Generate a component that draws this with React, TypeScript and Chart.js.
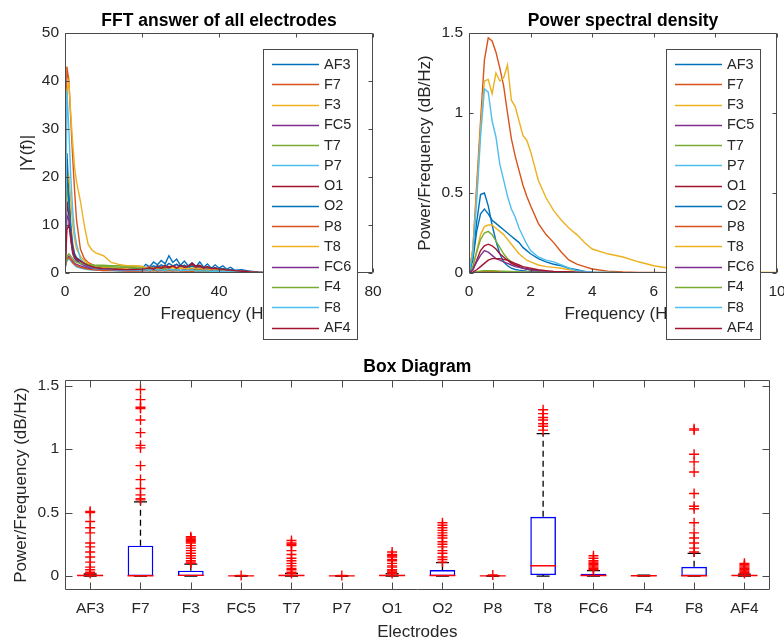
import React, { useEffect, useRef } from 'react';
import { Chart, registerables } from 'chart.js';

Chart.register(...registerables);

const FONT = '"Liberation Sans", Arial, Helvetica, sans-serif';

const electrodes = ['AF3', 'F7', 'F3', 'FC5', 'T7', 'P7', 'O1', 'O2', 'P8', 'T8', 'FC6', 'F4', 'F8', 'AF4'];
const seriesColors = ['#0072BD', '#D95319', '#EDB120', '#7E2F8E', '#77AC30', '#4DBEEE', '#A2142F', '#0072BD', '#D95319', '#EDB120', '#7E2F8E', '#77AC30', '#4DBEEE', '#A2142F'];

// ---------- FFT (|Y(f)|) ----------
const fftFreq = [0, 0.5, 1, 1.5, 2, 2.5, 3, 4, 5, 6, 7, 8, 10, 12, 14, 16, 18, 20, 21, 22, 23, 24, 25, 26, 27, 28, 29, 30, 31, 32, 33, 34, 35, 36, 37, 38, 39, 40, 41, 42, 43, 44, 46, 48, 50, 52, 55, 60, 64];
const fftAF3 = [0.5, 25, 17, 10, 6, 4, 3.2, 2.6, 2, 1.6, 1.3, 1.1, 0.9, 0.8, 0.7, 0.7, 0.8, 1.0, 1.8, 1.3, 2.3, 1.7, 2.6, 1.9, 3.6, 2.2, 2.9, 1.6, 2.5, 1.5, 2.1, 1.3, 2.3, 1.2, 1.9, 1.0, 1.7, 1.0, 1.5, 0.8, 1.2, 0.6, 0.7, 0.35, 0.2, 0.1, 0.05, 0, 0];
const fftF7 = [0, 43, 40, 32, 24, 17, 11, 5, 3, 2.2, 1.8, 1.5, 1.2, 1.0, 0.9, 0.8, 0.8, 0.9, 1.1, 1.3, 1.0, 1.4, 1.2, 1.6, 1.3, 1.5, 1.1, 1.4, 1.2, 1.0, 1.6, 0.9, 1.1, 0.8, 0.9, 0.7, 0.8, 0.6, 0.6, 0.5, 0.5, 0.4, 0.3, 0.2, 0.1, 0.05, 0, 0, 0];
const fftF3 = [0, 18, 20, 15, 10, 7, 5, 3.5, 2.5, 2, 1.6, 1.3, 1.1, 1.0, 0.9, 0.8, 0.8, 0.7, 0.8, 0.6, 0.9, 0.7, 0.8, 0.6, 0.9, 0.7, 0.8, 0.5, 0.7, 0.6, 0.8, 0.5, 0.6, 0.5, 0.6, 0.4, 0.5, 0.4, 0.4, 0.3, 0.3, 0.3, 0.2, 0.15, 0.1, 0.05, 0, 0, 0];
const fftFC5 = [1, 3, 3.5, 3, 2.5, 2, 1.8, 1.5, 1.2, 1, 0.9, 0.8, 0.7, 0.6, 0.5, 0.5, 0.5, 0.5, 0.6, 0.5, 0.6, 0.5, 0.6, 0.5, 0.6, 0.5, 0.6, 0.5, 0.5, 0.4, 0.5, 0.4, 0.5, 0.4, 0.4, 0.3, 0.4, 0.3, 0.3, 0.3, 0.2, 0.2, 0.15, 0.1, 0.05, 0, 0, 0, 0];
const fftT7 = [0, 19, 14, 8, 5, 3.5, 3, 2.5, 2, 1.8, 1.7, 1.6, 1.6, 1.5, 1.5, 1.4, 1.4, 1.3, 0.9, 1.0, 0.8, 1.1, 0.9, 1.0, 0.8, 1.2, 0.9, 1.0, 0.8, 0.9, 1.0, 0.7, 0.8, 0.6, 0.8, 0.6, 0.7, 0.5, 0.6, 0.4, 0.5, 0.4, 0.3, 0.2, 0.1, 0.05, 0, 0, 0];
const fftP7 = [1, 2.5, 3, 2.5, 2, 1.6, 1.3, 1, 0.8, 0.7, 0.6, 0.6, 0.5, 0.5, 0.4, 0.4, 0.4, 0.4, 0.5, 0.4, 0.5, 0.4, 0.5, 0.4, 0.5, 0.4, 0.5, 0.4, 0.4, 0.3, 0.4, 0.3, 0.4, 0.3, 0.3, 0.3, 0.3, 0.2, 0.2, 0.2, 0.2, 0.1, 0.1, 0.05, 0, 0, 0, 0, 0];
const fftO1 = [0, 15, 12, 7, 4.5, 3.5, 3, 2.5, 2, 1.5, 1.2, 1, 0.9, 0.8, 0.8, 0.7, 0.8, 0.9, 1.0, 1.3, 0.9, 1.5, 1.1, 1.6, 1.2, 1.4, 1.8, 1.3, 1.6, 1.2, 2.1, 1.4, 1.6, 1.1, 1.3, 0.9, 1.1, 0.8, 0.9, 0.7, 0.7, 0.5, 0.4, 0.3, 0.15, 0.05, 0, 0, 0];
const fftO2 = [0, 22, 15, 9, 5, 3.5, 2.8, 2, 1.6, 1.3, 1.1, 1, 0.9, 0.8, 0.7, 0.7, 0.8, 0.9, 1.2, 1.0, 1.5, 1.2, 1.7, 1.3, 2.0, 1.5, 1.8, 1.2, 1.6, 1.1, 1.5, 1.0, 1.4, 0.9, 1.2, 0.8, 1.1, 0.7, 0.9, 0.6, 0.7, 0.5, 0.4, 0.25, 0.1, 0.05, 0, 0, 0];
const fftP8 = [1, 3, 3.2, 2.8, 2.2, 1.8, 1.5, 1.2, 1, 0.8, 0.7, 0.6, 0.5, 0.5, 0.5, 0.4, 0.4, 0.4, 0.5, 0.4, 0.5, 0.4, 0.5, 0.4, 0.5, 0.4, 0.5, 0.4, 0.4, 0.3, 0.4, 0.3, 0.4, 0.3, 0.3, 0.3, 0.3, 0.2, 0.2, 0.2, 0.2, 0.1, 0.1, 0.05, 0, 0, 0, 0, 0];
const fftT8 = [0, 38, 40, 33, 27, 22, 19, 15, 10, 6, 4.8, 4.2, 3.6, 2.2, 1.8, 1.5, 1.5, 1.4, 1.0, 1.2, 0.9, 1.1, 1.0, 1.3, 0.9, 1.2, 1.0, 1.1, 0.8, 1.0, 0.9, 1.1, 0.8, 0.9, 0.7, 0.8, 0.6, 0.7, 0.5, 0.6, 0.4, 0.4, 0.3, 0.2, 0.1, 0.05, 0, 0, 0];
const fftFC6 = [0, 12, 11, 7, 4, 3, 2.5, 2, 1.6, 1.3, 1.1, 1, 0.8, 0.7, 0.6, 0.6, 0.6, 0.6, 0.7, 0.6, 0.8, 0.6, 0.7, 0.6, 0.8, 0.6, 0.7, 0.5, 0.7, 0.5, 0.8, 0.5, 0.6, 0.5, 0.6, 0.4, 0.5, 0.4, 0.4, 0.3, 0.3, 0.3, 0.2, 0.15, 0.1, 0.05, 0, 0, 0];
const fftF4 = [1, 3.5, 4, 3.5, 3, 2.5, 2.2, 2, 1.8, 1.7, 1.6, 1.5, 1.4, 1.3, 1.2, 1.2, 1.1, 1.0, 0.7, 0.6, 0.7, 0.6, 0.7, 0.6, 0.7, 0.6, 0.7, 0.5, 0.6, 0.5, 0.6, 0.5, 0.5, 0.4, 0.5, 0.4, 0.4, 0.3, 0.3, 0.3, 0.2, 0.2, 0.15, 0.1, 0.05, 0, 0, 0, 0];
const fftF8 = [0, 38, 30, 20, 13, 8.5, 6, 3, 2, 1.5, 1.2, 1.0, 0.8, 0.7, 0.6, 0.6, 0.6, 0.6, 0.7, 0.5, 0.8, 0.6, 0.7, 0.5, 0.8, 0.6, 0.7, 0.5, 0.6, 0.5, 0.7, 0.4, 0.5, 0.4, 0.5, 0.3, 0.4, 0.3, 0.3, 0.3, 0.2, 0.2, 0.15, 0.1, 0.05, 0, 0, 0, 0];
const fftAF4 = [0, 9, 10, 8, 5, 3.5, 3, 2.5, 2, 1.6, 1.3, 1.1, 0.9, 0.8, 0.7, 0.7, 0.7, 0.8, 0.9, 1.1, 0.8, 1.2, 1.0, 1.3, 1.1, 1.5, 1.0, 1.6, 1.2, 1.4, 1.9, 1.2, 1.5, 1.0, 1.3, 0.9, 1.0, 0.8, 0.8, 0.6, 0.6, 0.5, 0.35, 0.2, 0.1, 0.05, 0, 0, 0];
const fftSeries = [fftAF3, fftF7, fftF3, fftFC5, fftT7, fftP7, fftO1, fftO2, fftP8, fftT8, fftFC6, fftF4, fftF8, fftAF4];

// ---------- Power spectral density ----------
const psdFreq = [0, 0.125, 0.25, 0.375, 0.5, 0.625, 0.75, 0.875, 1, 1.125, 1.25, 1.375, 1.5, 1.625, 1.75, 1.875, 2, 2.25, 2.5, 2.75, 3, 3.25, 3.5, 3.75, 4, 4.5, 5, 5.5, 6, 6.5, 7, 7.5, 8, 8.5, 9, 10];
const psdAF3 = [0, 0.10, 0.32, 0.49, 0.50, 0.42, 0.30, 0.20, 0.12, 0.07, 0.045, 0.03, 0.022, 0.018, 0.015, 0.012, 0.01, 0.008, 0.006, 0.005, 0.004, 0.003, 0.003, 0.002, 0.002, 0.001, 0.001, 0.001, 0, 0, 0, 0, 0, 0, 0, 0];
const psdF7 = [0, 0.15, 0.55, 0.95, 1.33, 1.47, 1.45, 1.38, 1.28, 1.17, 1.0, 0.84, 0.73, 0.64, 0.55, 0.48, 0.42, 0.31, 0.24, 0.19, 0.13, 0.08, 0.055, 0.04, 0.025, 0.012, 0.006, 0.004, 0.003, 0.002, 0.002, 0.001, 0.001, 0, 0, 0];
const psdF3 = [0, 0.04, 0.14, 0.24, 0.29, 0.30, 0.30, 0.28, 0.26, 0.24, 0.21, 0.18, 0.15, 0.12, 0.10, 0.08, 0.07, 0.05, 0.04, 0.035, 0.03, 0.02, 0.015, 0.01, 0.005, 0.003, 0.002, 0.001, 0, 0, 0, 0, 0, 0, 0, 0];
const psdFC5 = [0, 0.002, 0.005, 0.007, 0.008, 0.008, 0.008, 0.007, 0.007, 0.006, 0.006, 0.005, 0.005, 0.004, 0.004, 0.003, 0.003, 0.002, 0.002, 0.002, 0.001, 0.001, 0.001, 0.001, 0.001, 0, 0, 0, 0, 0, 0, 0, 0, 0, 0, 0];
const psdT7 = [0, 0.04, 0.13, 0.21, 0.25, 0.26, 0.24, 0.20, 0.16, 0.12, 0.09, 0.07, 0.05, 0.04, 0.03, 0.025, 0.02, 0.015, 0.01, 0.008, 0.006, 0.005, 0.004, 0.003, 0.002, 0.001, 0.001, 0, 0, 0, 0, 0, 0, 0, 0, 0];
const psdP7 = [0, 0.001, 0.003, 0.004, 0.005, 0.005, 0.005, 0.004, 0.004, 0.004, 0.003, 0.003, 0.003, 0.002, 0.002, 0.002, 0.002, 0.001, 0.001, 0.001, 0.001, 0.001, 0, 0, 0, 0, 0, 0, 0, 0, 0, 0, 0, 0, 0, 0];
const psdO1 = [0, 0.02, 0.08, 0.14, 0.17, 0.18, 0.17, 0.15, 0.12, 0.10, 0.08, 0.06, 0.05, 0.04, 0.03, 0.025, 0.02, 0.015, 0.01, 0.008, 0.006, 0.005, 0.004, 0.003, 0.002, 0.001, 0.001, 0, 0, 0, 0, 0, 0, 0, 0, 0];
const psdO2 = [0, 0.08, 0.26, 0.37, 0.40, 0.37, 0.33, 0.31, 0.29, 0.27, 0.25, 0.23, 0.21, 0.19, 0.16, 0.14, 0.12, 0.09, 0.07, 0.055, 0.045, 0.03, 0.02, 0.01, 0.005, 0.003, 0.002, 0.001, 0, 0, 0, 0, 0, 0, 0, 0];
const psdP8 = [0, 0.002, 0.006, 0.009, 0.010, 0.010, 0.009, 0.009, 0.008, 0.007, 0.007, 0.006, 0.005, 0.005, 0.004, 0.004, 0.003, 0.003, 0.002, 0.002, 0.002, 0.001, 0.001, 0.001, 0.001, 0.001, 0, 0, 0, 0, 0, 0, 0, 0, 0, 0];
const psdT8 = [0, 0.15, 0.5, 0.9, 1.2, 1.21, 1.12, 1.25, 1.2, 1.22, 1.3, 1.08, 1.04, 0.95, 0.86, 0.83, 0.76, 0.58, 0.47, 0.39, 0.33, 0.28, 0.24, 0.19, 0.15, 0.12, 0.10, 0.07, 0.045, 0.03, 0.02, 0.015, 0.01, 0.008, 0.005, 0.003];
const psdFC6 = [0, 0.02, 0.07, 0.11, 0.14, 0.13, 0.11, 0.09, 0.08, 0.07, 0.06, 0.05, 0.04, 0.035, 0.03, 0.025, 0.02, 0.015, 0.01, 0.008, 0.006, 0.005, 0.004, 0.003, 0.002, 0.001, 0.001, 0, 0, 0, 0, 0, 0, 0, 0, 0];
const psdF4 = [0, 0.003, 0.008, 0.012, 0.014, 0.015, 0.014, 0.013, 0.012, 0.011, 0.010, 0.009, 0.008, 0.007, 0.006, 0.005, 0.005, 0.004, 0.003, 0.003, 0.002, 0.002, 0.002, 0.001, 0.001, 0.001, 0, 0, 0, 0, 0, 0, 0, 0, 0, 0];
const psdF8 = [0, 0.12, 0.45, 0.85, 1.15, 1.13, 0.95, 0.85, 0.68, 0.58, 0.48, 0.40, 0.35, 0.28, 0.23, 0.18, 0.14, 0.10, 0.08, 0.07, 0.05, 0.03, 0.015, 0.01, 0.005, 0.003, 0.002, 0.001, 0, 0, 0, 0, 0, 0, 0, 0];
const psdAF4 = [0, 0.005, 0.02, 0.04, 0.06, 0.08, 0.09, 0.09, 0.09, 0.085, 0.08, 0.07, 0.06, 0.05, 0.04, 0.035, 0.03, 0.02, 0.015, 0.01, 0.008, 0.006, 0.004, 0.003, 0.002, 0.001, 0.001, 0, 0, 0, 0, 0, 0, 0, 0, 0];
const psdSeries = [psdAF3, psdF7, psdF3, psdFC5, psdT7, psdP7, psdO1, psdO2, psdP8, psdT8, psdFC6, psdF4, psdF8, psdAF4];

// ---------- Box diagram ----------
const boxQ1 = [0, 0, 0, 0, 0, 0, 0, 0, 0, 0.008, 0, 0, 0, 0];
const boxMedian = [0.004, 0.002, 0.005, 0.001, 0.004, 0.001, 0.004, 0.004, 0.001, 0.081, 0.004, 0.002, 0.002, 0.004];
const boxQ3 = [0.01, 0.239, 0.042, 0.002, 0.01, 0.002, 0.01, 0.047, 0.002, 0.467, 0.018, 0.006, 0.073, 0.008];
const whiskerLow = [0, 0, 0, 0, 0, 0, 0, 0, 0, 0, 0, 0, 0, 0];
const whiskerHigh = [0.016, 0.585, 0.094, 0.004, 0.02, 0.004, 0.018, 0.105, 0.004, 1.123, 0.042, 0.008, 0.178, 0.015];
const boxOutliers = [
  [0.51, 0.50, 0.43, 0.38, 0.34, 0.26, 0.23, 0.19, 0.15, 0.11, 0.07, 0.05, 0.03, 0.02],
  [1.47, 1.39, 1.33, 1.32, 1.23, 1.13, 1.03, 1.01, 0.87, 0.76, 0.69, 0.64, 0.61, 0.60],
  [0.31, 0.30, 0.29, 0.28, 0.27, 0.26, 0.24, 0.22, 0.20, 0.18, 0.16, 0.14, 0.12, 0.11, 0.10],
  [0.005],
  [0.28, 0.26, 0.25, 0.24, 0.20, 0.17, 0.14, 0.12, 0.10, 0.08, 0.06, 0.05, 0.03, 0.02],
  [0.004],
  [0.19, 0.17, 0.16, 0.15, 0.13, 0.12, 0.10, 0.08, 0.07, 0.05, 0.04, 0.03, 0.02],
  [0.42, 0.40, 0.38, 0.36, 0.34, 0.32, 0.30, 0.27, 0.25, 0.23, 0.20, 0.18, 0.15, 0.13, 0.11],
  [0.008],
  [1.31, 1.28, 1.25, 1.23, 1.20, 1.18, 1.15],
  [0.16, 0.14, 0.12, 0.11, 0.10, 0.09, 0.08, 0.07, 0.06, 0.05],
  [],
  [1.16, 1.15, 0.96, 0.90, 0.82, 0.65, 0.55, 0.53, 0.42, 0.34, 0.30, 0.26, 0.22, 0.19],
  [0.10, 0.09, 0.08, 0.07, 0.06, 0.05, 0.04, 0.03, 0.02],
];
const boxYTicks = [0, 0.5, 1, 1.5];

// ---------- plugin: MATLAB-like frame, inward ticks, title, legend ----------
const matlabPlugin = {
  id: 'matlab',
  afterDraw(chart: any, _args: any, opts: any) {
    const ctx = chart.ctx as CanvasRenderingContext2D;
    const { left, right, top, bottom } = chart.chartArea;
    const L = Math.round(left) + 0.5;
    const R = Math.round(right) - 0.5;
    const T = Math.round(top) + 0.5;
    const B = Math.round(bottom) - 0.5;
    ctx.save();
    ctx.setLineDash([]);
    ctx.strokeStyle = '#4a4a4a';
    ctx.lineWidth = 1;
    ctx.beginPath();
    ctx.rect(L, T, R - L, B - T);
    ctx.stroke();
    const xs = chart.scales.x;
    const ys = chart.scales.y;
    const len = opts.tickLen;
    ctx.beginPath();
    xs.ticks.forEach((_t: any, i: number) => {
      const p = Math.round(xs.getPixelForTick(i)) + 0.5;
      ctx.moveTo(p, B); ctx.lineTo(p, B - len);
      ctx.moveTo(p, T); ctx.lineTo(p, T + len);
    });
    ys.ticks.forEach((_t: any, i: number) => {
      const p = Math.round(ys.getPixelForTick(i)) + 0.5;
      ctx.moveTo(L, p); ctx.lineTo(L + len, p);
      ctx.moveTo(R, p); ctx.lineTo(R - len, p);
    });
    ctx.stroke();

    ctx.fillStyle = '#000';
    ctx.font = `bold 17.5px ${FONT}`;
    ctx.textAlign = 'center';
    ctx.textBaseline = 'middle';
    ctx.fillText(opts.title, (left + right) / 2, opts.titleY);

    if (opts.legend) {
      const lg = opts.legend;
      ctx.fillStyle = '#fff';
      ctx.fillRect(lg.x, lg.y, lg.w, lg.h);
      ctx.strokeStyle = '#4a4a4a';
      ctx.lineWidth = 1;
      ctx.strokeRect(lg.x + 0.5, lg.y + 0.5, lg.w, lg.h);
      ctx.font = `14.5px ${FONT}`;
      ctx.textAlign = 'left';
      chart.data.datasets.forEach((ds: any, i: number) => {
        const cy = lg.y + 15 + i * 20.27;
        ctx.strokeStyle = ds.borderColor;
        ctx.lineWidth = 1.4;
        ctx.beginPath();
        ctx.moveTo(lg.x + 9, Math.round(cy) + 0.5);
        ctx.lineTo(lg.x + 56, Math.round(cy) + 0.5);
        ctx.stroke();
        ctx.fillStyle = '#262626';
        ctx.fillText(ds.label, lg.x + 61, cy + 0.5);
      });
    }
    ctx.restore();
  },
};

const tickFont = { family: FONT, size: 15.5 };
const axisTitleFont = { family: FONT, size: 17 };
const TEXT = '#262626';
const plainNumber = (v: any) => `${+Number(v).toFixed(4)}`;

function lineDatasets(freq: number[], series: number[][]) {
  return electrodes.map((name, i) => ({
    label: name,
    data: freq.map((f, k) => ({ x: f, y: series[i][k] ?? null })),
    borderColor: seriesColors[i],
    backgroundColor: seriesColors[i],
    borderWidth: 1.4,
    pointRadius: 0,
    fill: false,
    order: 13 - i,
  }));
}

function spectrumConfig(opts: {
  freq: number[]; series: number[][]; xMax: number; xStep: number; yMax: number; yStep: number;
  yTitle: string; yTitlePad: number; yWidth: number; rightPad: number; title: string; legendX: number;
}): any {
  return {
    type: 'line',
    data: { datasets: lineDatasets(opts.freq, opts.series) },
    plugins: [matlabPlugin],
    options: {
      animation: false,
      responsive: false,
      maintainAspectRatio: false,
      events: [],
      layout: { padding: { top: 33, right: opts.rightPad, left: 0, bottom: 0 } },
      plugins: {
        legend: { display: false },
        title: { display: false },
        tooltip: { enabled: false },
        matlab: { tickLen: 4, title: opts.title, titleY: 21, legend: { x: opts.legendX, y: 49, w: 94, h: 290 } },
      },
      scales: {
        x: {
          type: 'linear', min: 0, max: opts.xMax,
          grid: { display: false, drawTicks: false }, border: { display: false },
          ticks: { stepSize: opts.xStep, font: tickFont, color: TEXT, padding: 9, maxRotation: 0, callback: plainNumber },
          title: { display: true, text: 'Frequency (Hz)', font: axisTitleFont, color: TEXT, padding: { top: 0, bottom: 20 } },
          afterFit: (s: any) => { s.height = 72; s.paddingLeft = 0; s.paddingRight = 0; },
        },
        y: {
          type: 'linear', min: 0, max: opts.yMax,
          grid: { display: false, drawTicks: false }, border: { display: false },
          ticks: { stepSize: opts.yStep, font: tickFont, color: TEXT, padding: 6, callback: plainNumber },
          title: { display: true, text: opts.yTitle, font: axisTitleFont, color: TEXT, padding: { top: opts.yTitlePad, bottom: 0 } },
          afterFit: (s: any) => { s.width = opts.yWidth; s.paddingTop = 0; s.paddingBottom = 0; },
        },
      },
    },
  };
}

function boxConfig(): any {
  const whiskerData: any[] = [];
  const capData: any[] = [];
  const outlierData: any[] = [];
  electrodes.forEach((name, i) => {
    whiskerData.push({ x: name, y: boxQ3[i] }, { x: name, y: whiskerHigh[i] }, { x: name, y: null });
    whiskerData.push({ x: name, y: whiskerLow[i] }, { x: name, y: boxQ1[i] }, { x: name, y: null });
    capData.push({ x: name, y: whiskerHigh[i] }, { x: name, y: whiskerLow[i] });
    boxOutliers[i].forEach((v) => outlierData.push({ x: name, y: v }));
  });
  return {
    type: 'bar',
    data: {
      labels: electrodes,
      datasets: [
        {
          type: 'bar',
          label: 'box',
          data: electrodes.map((_n, i) => [boxQ1[i], boxQ3[i]]),
          backgroundColor: 'rgba(0,0,0,0)',
          borderColor: '#0000FF',
          borderWidth: 1.4,
          borderSkipped: false,
          barPercentage: 0.51,
          categoryPercentage: 1,
          order: 5,
        },
        {
          type: 'line',
          label: 'whiskers',
          data: whiskerData,
          borderColor: '#000',
          borderWidth: 1.3,
          borderDash: [6, 4],
          pointRadius: 0,
          spanGaps: false,
          fill: false,
          order: 4,
        },
        {
          type: 'line',
          label: 'caps',
          data: capData,
          showLine: false,
          pointStyle: 'line',
          pointRadius: 6.5,
          pointBorderColor: '#000',
          borderColor: '#000',
          pointBorderWidth: 1.3,
          order: 3,
        },
        {
          type: 'line',
          label: 'median',
          data: boxMedian,
          showLine: false,
          pointStyle: 'line',
          pointRadius: 13,
          pointBorderColor: '#FF0000',
          borderColor: '#FF0000',
          pointBorderWidth: 1.4,
          order: 2,
        },
        {
          type: 'line',
          label: 'outliers',
          data: outlierData,
          showLine: false,
          pointStyle: 'cross',
          pointRadius: 5,
          pointBorderColor: '#FF0000',
          borderColor: '#FF0000',
          pointBorderWidth: 1.4,
          order: 1,
        },
      ],
    },
    plugins: [matlabPlugin],
    options: {
      animation: false,
      responsive: false,
      maintainAspectRatio: false,
      events: [],
      layout: { padding: { top: 35, right: 7, left: 0, bottom: 0 } },
      plugins: {
        legend: { display: false },
        title: { display: false },
        tooltip: { enabled: false },
        matlab: { tickLen: 7, title: 'Box Diagram', titleY: 22.5 },
      },
      scales: {
        x: {
          type: 'category', offset: true,
          grid: { display: false, drawTicks: false }, border: { display: false },
          ticks: { font: tickFont, color: TEXT, padding: 9, autoSkip: false, maxRotation: 0 },
          title: { display: true, text: 'Electrodes', font: { family: FONT, size: 17, lineHeight: 0.82 }, color: TEXT, padding: 0 },
          afterFit: (s: any) => { s.height = 49; s.paddingLeft = 0; s.paddingRight = 0; },
        },
        y: {
          type: 'linear', min: -0.11, max: 1.545,
          grid: { display: false, drawTicks: false }, border: { display: false },
          ticks: { font: tickFont, color: TEXT, padding: 6, callback: plainNumber },
          afterBuildTicks: (s: any) => { s.ticks = boxYTicks.map((v) => ({ value: v })); },
          title: { display: true, text: 'Power/Frequency (dB/Hz)', font: axisTitleFont, color: TEXT, padding: { top: 11, bottom: 0 } },
          afterFit: (s: any) => { s.width = 65; s.paddingTop = 0; s.paddingBottom = 0; },
        },
      },
    },
  };
}

export default function App() {
  const fftRef = useRef<HTMLCanvasElement>(null);
  const psdRef = useRef<HTMLCanvasElement>(null);
  const boxRef = useRef<HTMLCanvasElement>(null);

  useEffect(() => {
    const charts: Chart[] = [];
    if (fftRef.current) {
      charts.push(new Chart(fftRef.current, spectrumConfig({
        freq: fftFreq, series: fftSeries, xMax: 80, xStep: 20, yMax: 50, yStep: 10,
        yTitle: '|Y(f)|', yTitlePad: 17, yWidth: 65, rightPad: 19,
        title: 'FFT answer of all electrodes', legendX: 263,
      })));
    }
    if (psdRef.current) {
      charts.push(new Chart(psdRef.current, spectrumConfig({
        freq: psdFreq, series: psdSeries, xMax: 10, xStep: 2, yMax: 1.5, yStep: 0.5,
        yTitle: 'Power/Frequency (dB/Hz)', yTitlePad: 23, yWidth: 77, rightPad: 7,
        title: 'Power spectral density', legendX: 274,
      })));
    }
    if (boxRef.current) {
      charts.push(new Chart(boxRef.current, boxConfig()));
    }
    return () => charts.forEach((c) => c.destroy());
  }, []);

  const abs = (left: number, top: number, w: number, h: number): React.CSSProperties => ({
    position: 'absolute', left, top, width: w, height: h, display: 'block',
  });

  return (
    <div style={{ position: 'absolute', left: 0, top: 0, width: 784, height: 639, overflow: 'hidden', background: '#fff' }}>
      <canvas ref={fftRef} width={392} height={345} style={abs(0, 0, 392, 345)} />
      <canvas ref={psdRef} width={392} height={345} style={abs(392, 0, 392, 345)} />
      <canvas ref={boxRef} width={784} height={294} style={abs(0, 345, 784, 294)} />
    </div>
  );
}
